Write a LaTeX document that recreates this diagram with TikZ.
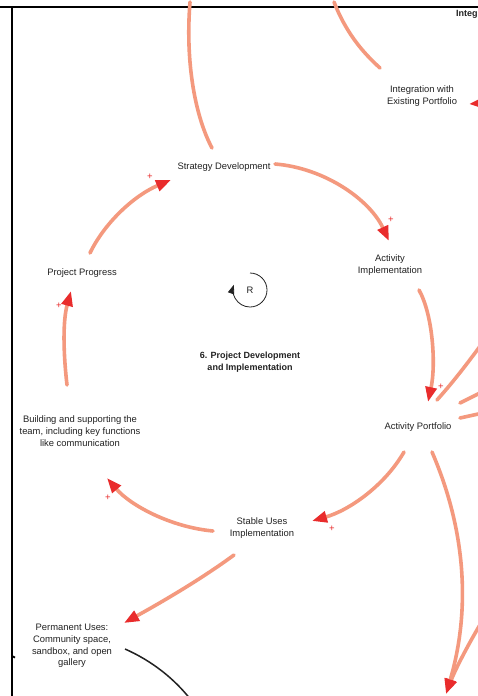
\documentclass[tikz,border=0pt]{standalone}
\usepackage{fontspec}
\setmainfont{Liberation Sans}
\usetikzlibrary{arrows.meta,calc}

\definecolor{linkcol}{RGB}{244,153,126}
\definecolor{tipred}{RGB}{233,44,44}
\definecolor{ink}{RGB}{34,34,34}

\tikzset{
  var/.style={align=center, font=\fontsize{9.4}{11.8}\selectfont, text=ink, inner sep=1pt},
  heading/.style={align=center, font=\bfseries\fontsize{9}{11.8}\selectfont, text=ink, inner sep=1pt},
  link/.style={draw=linkcol, line width=3.6pt, line cap=round},
  redtip/.style={-{Triangle[length=15pt,width=11pt,color=tipred]}},
  pol/.style={text=tipred, font=\fontsize{9.5}{9.5}\selectfont, inner sep=0pt},
  frame/.style={draw=black, line width=1.8pt},
}

\begin{document}
\begin{tikzpicture}[x=1pt,y=-1pt]
  \useasboundingbox (0,0) rectangle (478,696);
  \clip (0,0) rectangle (478,696);
  \fill[white] (0,0) rectangle (478,696);

  % frame
  \draw[frame] (0,7) -- (478,7);
  \draw[frame] (12,7) -- (12,700);
  \draw[frame] (12,656) -- (15,657.5);

  % variables
  \node[var] (sd)  at (224,167) {Strategy Development};
  \node[var] (ai)  at (390,265) {Activity\\Implementation};
  \node[var] (iep) at (422,96)  {Integration with\\Existing Portfolio};
  \node[var] (pp)  at (82,273)  {Project Progress};
  \node[var] (ap)  at (418,427) {Activity Portfolio};
  \node[var] (bst) at (80,431)  {Building and supporting the\\team, including key functions\\like communication};
  \node[var] (su)  at (262,528) {Stable Uses\\Implementation};
  \node[var] (pu)  at (72,646)  {Permanent Uses:\\Community space,\\sandbox, and open\\gallery};
  \node[heading] (ttl) at (250,362) {6. Project Development\\and Implementation};
  \node[heading, anchor=west, inner sep=0pt] (intg) at (456,14) {Integ};

  % loop marker
  \node[var] (r) at (250,290) {R};
  \draw[ink, line width=0.8pt, -{Triangle[length=9pt,width=6.5pt]}]
    ($(r)+(0,-17)$) arc[start angle=90, end angle=-198, radius=17pt];

  % off-canvas ends
  \coordinate (o1) at (190,2);
  \coordinate (o2) at (334,2);
  \coordinate (o3) at (496,102);
  \coordinate (o4) at (492,330);
  \coordinate (o5) at (492,387);
  \coordinate (o6) at (492,411);
  \coordinate (o7) at (446,694);
  \coordinate (o8) at (492,605);
  \coordinate (o9) at (194,704);

  % reinforcing loop
  \draw[link, redtip] ($(sd)+(51,-3)$) .. controls (325,168) and (370,200) .. ($(ai)+(-1,-24)$);
  \draw[link, redtip] ($(ai)+(29,25)$) .. controls (433,315) and (436,365) .. ($(ap)+(10,-25)$);
  \draw[link, redtip] ($(ap)+(-14,25)$) .. controls (385,485) and (350,510) .. ($(su)+(50,-7)$);
  \draw[link, redtip] ($(su)+(-49,3)$) .. controls (170,527) and (130,505) .. ($(bst)+(27,47)$);
  \draw[link, redtip] ($(bst)+(-13,-46)$) .. controls (63,350) and (63,320) .. ($(pp)+(-11,18)$);
  \draw[link, redtip] ($(pp)+(8,-20)$) .. controls (105,222) and (135,195) .. ($(sd)+(-53,13)$);

  \node[pol] (p1) at ($(ai)+(1,-45)$) {+};
  \node[pol] (p2) at ($(ap)+(23,-40)$) {+};
  \node[pol] (p3) at ($(su)+(70,1)$) {+};
  \node[pol] (p4) at ($(bst)+(28,67)$) {+};
  \node[pol] (p5) at ($(pp)+(-23,33)$) {+};
  \node[pol] (p6) at ($(sd)+(-74,10)$) {+};

  % other links
  \draw[link, redtip] ($(su)+(-28,27)$) .. controls (200,580) and (160,603) .. ($(pu)+(52,-23)$);
  \draw[link] ($(sd)+(-12,-19)$) .. controls (196,118) and (185,65) .. (o1);
  \draw[link] ($(iep)+(-42,-28)$) .. controls (360,50) and (345,30) .. (o2);
  \draw[link, redtip] (o3) -- ($(iep)+(47,8)$);
  \draw[link] ($(ap)+(19,-27)$) .. controls (455,380) and (470,360) .. (o4);
  \draw[link] ($(ap)+(42,-24)$) -- (o5);
  \draw[link] ($(ap)+(42,-9)$) -- (o6);
  \draw[link, redtip] (o8) .. controls (470,640) and (455,670) .. (o7);
  \draw[link, redtip] ($(ap)+(14,25)$) .. controls (470,540) and (468,620) .. (o7);

  \draw[ink, line width=1.5pt] ($(pu)+(53,3)$) .. controls (150,660) and (175,678) .. (o9);
\end{tikzpicture}
\end{document}
